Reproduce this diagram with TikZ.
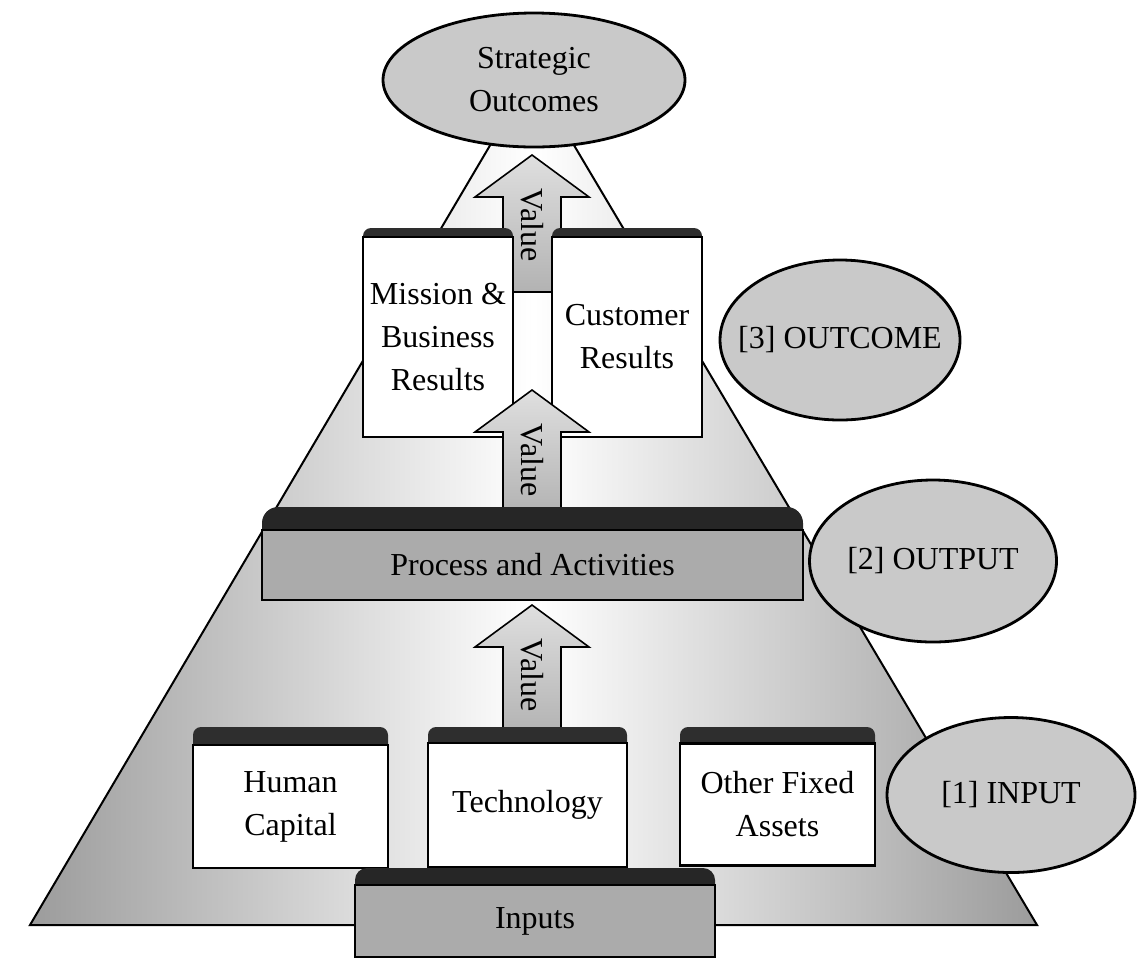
\documentclass[tikz,border=0pt]{standalone}
\usepackage{fontspec}
\setmainfont{Liberation Serif}
\usetikzlibrary{shapes.geometric}

% block arrow pointing up: name, centre x, tip y, foot y
\newcommand{\valuearrow}[4]{%
  \filldraw[valarrow] (#2-29,#4) -- (#2-29,#3+42) -- (#2-57,#3+42) -- (#2,#3)
    -- (#2+57,#3+42) -- (#2+29,#3+42) -- (#2+29,#4) -- cycle;
  \node[rotate=-90] (#1) at (#2,#3+70) {Value};}

\begin{document}
\begin{tikzpicture}[x=0.5pt,y=-0.5pt,
    every node/.style={font=\fontsize{16}{21.5}\selectfont},
    level/.style={ellipse,draw=black,line width=1.4pt,fill=gray!42,inner sep=0pt,align=center},
    result/.style={draw=black,line width=1.1pt,fill=white,align=center,inner sep=0pt},
    lid/.style={fill=black!82,rounded corners=4pt},
    slab/.style={draw=black,line width=1pt,fill=gray!66,inner sep=0pt},
    valarrow/.style={draw=black,line width=0.8pt,top color=gray!25,bottom color=gray!60}]
    \useasboundingbox (0,0) rectangle (1138,960);
    % pyramid
    \filldraw[line width=1pt,left color=gray!78,right color=gray!78,middle color=white]
      (30,925) -- (505,120) -- (559,120) -- (1037,925) -- cycle;
    % top level
    \valuearrow{v3}{532}{155}{292}
    \fill[lid] (363,228) rectangle (513,246);
    \fill[lid] (552,228) rectangle (702,246);
    \node[result,minimum width=75pt,minimum height=100pt] (mission) at (438,337) {Mission \&\\Business\\Results};
    \node[result,minimum width=75pt,minimum height=100pt] (customer) at (627,337) {Customer\\Results};
    \valuearrow{v2}{532}{390}{515}
    % process
    \fill[black!85,rounded corners=8pt] (262,507) rectangle (803,545);
    \node[slab,minimum width=270.5pt,minimum height=35pt] (process) at (532.5,565) {Process and Activities};
    \valuearrow{v1}{532}{605}{735}
    % inputs
    \fill[lid] (193,727) rectangle (388,755);
    \fill[lid] (428,727) rectangle (627,755);
    \fill[lid] (680,727) rectangle (875,755);
    \node[result,minimum width=97.5pt,minimum height=61.5pt] (human) at (290.5,806.5) {Human\\Capital};
    \node[result,minimum width=99.5pt,minimum height=62pt] (tech) at (527.5,805) {Technology};
    \node[result,minimum width=97.5pt,minimum height=61pt] (fixed) at (777.5,804.5) {Other Fixed\\Assets};
    \fill[black!85,rounded corners=6pt] (355,868) rectangle (715,900);
    \node[slab,minimum width=180pt,minimum height=36pt] (inputs) at (535,921) {Inputs};
    % levels
    \node[level,minimum width=151pt,minimum height=67pt] (strategic) at (534,80) {Strategic\\Outcomes};
    \node[level,minimum width=120pt,minimum height=80pt] (outcome) at (840,340) {\makebox[0pt]{[3] OUTCOME}};
    \node[level,minimum width=123.5pt,minimum height=81pt] (output) at (933,561) {[2] OUTPUT};
    \node[level,minimum width=124pt,minimum height=77.5pt] (input) at (1011,795) {[1] INPUT};
\end{tikzpicture}
\end{document}
